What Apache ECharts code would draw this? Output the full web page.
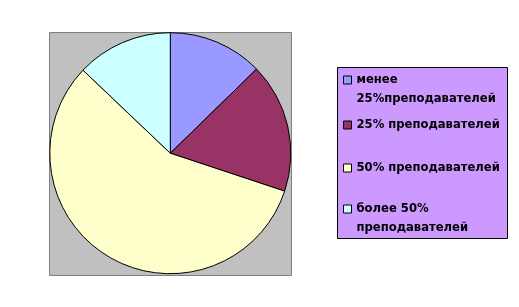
<!DOCTYPE html>
<html>
 <head>
  <meta charset="utf-8">
  <title>Pie</title>
  <script src="https://cdn.jsdelivr.net/npm/echarts@6/dist/echarts.min.js"></script>
  <style>
    html, body, #container {
    width: 100%;
    height: 100%;
    margin: 0;
    padding: 0;
    background: #fff;
    }
  </style>
 </head>
  <body>
    <div id="container"></div>
    <script>
// slices, clockwise from 12 o'clock
var categories = ['менее\n25%преподавателей', '25% преподавателей', '50% преподавателей', 'более 50%\nпреподавателей'];
var shares = [12.7, 17.4, 57.0, 12.9];
var colors = ['#9999FF', '#993366', '#FFFFCC', '#CCFFFF'];

var chartDom = document.getElementById('container');
var myChart = echarts.init(chartDom);
var option;

var legendTops = [51.5, 115.5, 158.5, 180.5];
var legends = categories.map(function (name, i) {
  var twoLines = name.indexOf('\n') >= 0;
  return {
    data: [name],
    orient: 'vertical',
    left: 343,
    top: legendTops[i],
    padding: 0,
    itemWidth: 8,
    itemHeight: 8,
    icon: 'rect',
    itemStyle: { borderColor: '#000', borderWidth: 1 },
    selectedMode: false,
    // blank first line so the marker sits beside the first text line
    formatter: function (n) { return twoLines ? '\n' + n : n; },
    textStyle: {
      fontFamily: 'DejaVu Sans',
      fontWeight: 'bold',
      fontSize: 11.6,
      color: '#000',
      lineHeight: 19
    }
  };
});

option = {
  animation: false,
  color: colors,
  graphic: [
    {
      type: 'rect',
      shape: { x: 49.5, y: 32.5, width: 242, height: 243 },
      style: { fill: '#C0C0C0', stroke: '#808080', lineWidth: 1 }
    },
    {
      type: 'rect',
      shape: { x: 337.5, y: 67.5, width: 170, height: 171 },
      style: { fill: '#CC99FF', stroke: '#000', lineWidth: 1 }
    }
  ],
  legend: legends,
  series: [
    {
      type: 'pie',
      center: [170.3, 153.2],
      radius: 120.5,
      startAngle: 90,
      clockwise: true,
      label: { show: false },
      labelLine: { show: false },
      emphasis: { disabled: true },
      itemStyle: { borderColor: '#000', borderWidth: 1 },
      data: categories.map(function (c, i) { return { name: c, value: shares[i] }; })
    }
  ]
};

option && myChart.setOption(option);
    </script>
  </body>
</html>
